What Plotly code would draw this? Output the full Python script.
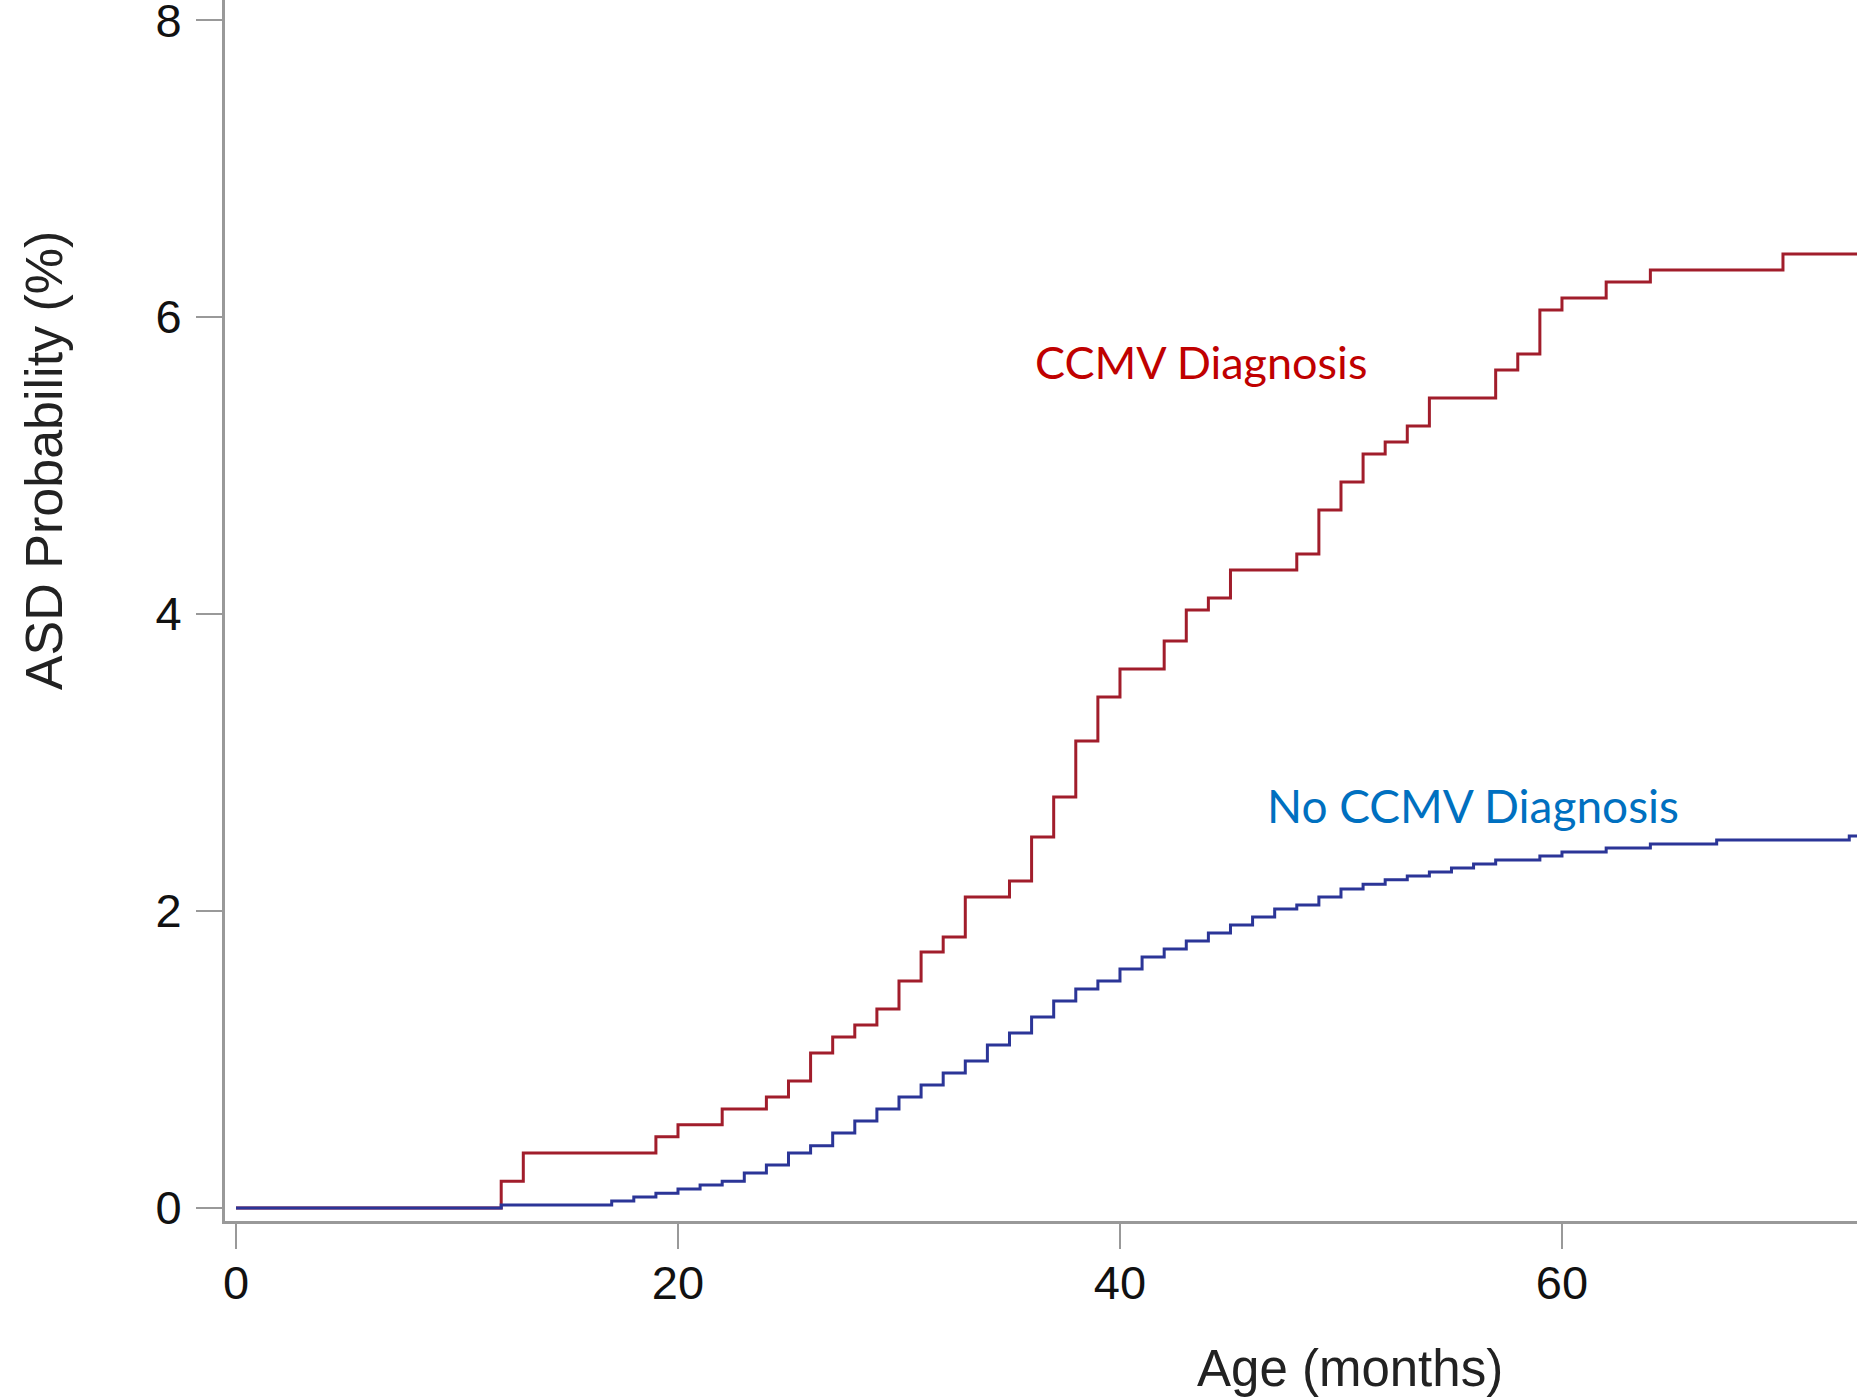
import plotly.graph_objects as go

# Kaplan-Meier style cumulative ASD probability (%), step curves
ccmv_months = [0, 12, 13, 19, 20, 22, 24, 25, 26, 27, 28, 29, 30, 31, 32, 33, 35, 36, 37, 38,
               39, 40, 42, 43, 44, 45, 48, 49, 50, 51, 52, 53, 54, 57, 58, 59, 60, 62, 64, 70, 74]
ccmv_values = [0, 0.18, 0.37, 0.48, 0.56, 0.667, 0.747, 0.855, 1.044, 1.152, 1.232, 1.34, 1.529,
               1.724, 1.825, 2.094, 2.202, 2.498, 2.768, 3.145, 3.441, 3.63, 3.818, 4.027, 4.108,
               4.296, 4.404, 4.70, 4.889, 5.077, 5.158, 5.266, 5.455, 5.643, 5.751, 6.047, 6.128,
               6.236, 6.316, 6.424, 6.424]

noccmv_months = [0, 12, 17, 18, 19, 20, 21, 22, 23, 24, 25, 26, 27, 28, 29, 30, 31, 32, 33, 34,
                 35, 36, 37, 38, 39, 40, 41, 42, 43, 44, 45, 46, 47, 48, 49, 50, 51, 52, 53, 54,
                 55, 56, 57, 59, 60, 62, 64, 67, 73, 74]
noccmv_values = [0, 0.02, 0.047, 0.074, 0.10, 0.128, 0.155, 0.18, 0.236, 0.29, 0.37, 0.42, 0.505,
                 0.586, 0.667, 0.747, 0.828, 0.909, 0.99, 1.098, 1.178, 1.286, 1.394, 1.475, 1.529,
                 1.609, 1.69, 1.744, 1.798, 1.852, 1.906, 1.96, 2.013, 2.04, 2.094, 2.148, 2.18,
                 2.21, 2.236, 2.263, 2.29, 2.316, 2.343, 2.37, 2.397, 2.424, 2.451, 2.478, 2.505,
                 2.505]

x_ticks = [0, 20, 40, 60]
y_ticks = [0, 2, 4, 6, 8]

fig = go.Figure()
fig.add_trace(go.Scatter(x=ccmv_months, y=ccmv_values, mode="lines",
                         line=dict(shape="hv", color="#a11d2b", width=3),
                         name="CCMV Diagnosis", hoverinfo="x+y"))
fig.add_trace(go.Scatter(x=noccmv_months, y=noccmv_values, mode="lines",
                         line=dict(shape="hv", color="#2b3597", width=3),
                         name="No CCMV Diagnosis", hoverinfo="x+y"))

axis_font = dict(family="Liberation Sans, Arial, sans-serif", size=47, color="#111111")

fig.update_layout(
    template="none",
    width=1857, height=1400,
    margin=dict(l=225, r=0, t=0, b=179, pad=0, autoexpand=False),
    paper_bgcolor="white", plot_bgcolor="white",
    showlegend=False,
    xaxis=dict(range=[-0.498, 73.35], tickvals=x_ticks, ticktext=[str(v) for v in x_ticks],
               automargin=False, ticklabelstandoff=-6, ticklabeloverflow="allow",
               showgrid=False, zeroline=False, showline=True, linecolor="#999999", linewidth=3,
               ticks="outside", ticklen=25, tickwidth=2, tickcolor="#999999",
               tickfont=axis_font),
    yaxis=dict(range=[-0.0875, 8.135], tickvals=y_ticks, ticktext=[str(v) for v in y_ticks],
               automargin=False, ticklabelstandoff=5, ticklabeloverflow="allow",
               showgrid=False, zeroline=False, showline=True, linecolor="#999999", linewidth=3,
               ticks="outside", ticklen=26, tickwidth=2, tickcolor="#999999",
               tickfont=axis_font),
    annotations=[
        dict(text="CCMV Diagnosis", x=43.67, y=5.70, xref="x", yref="y", showarrow=False,
             xanchor="center", yanchor="middle",
             font=dict(family="Lato, sans-serif", size=45, color="#c00000")),
        dict(text="No CCMV Diagnosis", x=55.97, y=2.71, xref="x", yref="y", showarrow=False,
             xanchor="center", yanchor="middle",
             font=dict(family="Lato, sans-serif", size=46, color="#0070c0")),
        dict(text="ASD Probability (%)", x=-0.1109, y=0.6224, xref="paper", yref="paper",
             showarrow=False, textangle=-90, xanchor="center", yanchor="middle",
             font=dict(family="Liberation Sans, Arial, sans-serif", size=52, color="#222222")),
        dict(text="Age (months)", x=0.6893, y=-0.121, xref="paper", yref="paper",
             showarrow=False, xanchor="center", yanchor="middle",
             font=dict(family="Liberation Sans, Arial, sans-serif", size=51, color="#222222")),
    ],
)

fig.write_html("out.html", config={"displayModeBar": False},
               post_script="document.body.style.margin='0';document.body.style.overflow='hidden';")
